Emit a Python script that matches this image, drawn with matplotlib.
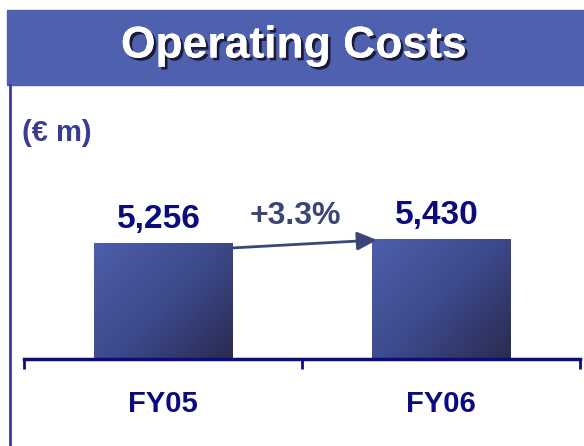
import matplotlib
matplotlib.use("Agg")
import matplotlib.pyplot as plt
import matplotlib.patheffects as pe
from matplotlib.patches import Rectangle
from matplotlib.colors import LinearSegmentedColormap
import numpy as np

plt.rcParams['font.family'] = ['Liberation Sans', 'DejaVu Sans']
plt.rcParams['font.weight'] = 'bold'

# data
years = ['FY05', 'FY06']
costs = [5256, 5430]
cost_labels = ['5,256', '5,430']
growth = '+3.3%'
title = 'Operating Costs'
unit = '(€ m)'

navy = '#0b0b80'
W, H = 584, 446
fig = plt.figure(figsize=(W / 100, H / 100), dpi=100)

# title banner
fig.patches.append(Rectangle((7 / W, 1 - 85 / H), 1 - 7 / W, 75 / H,
                             transform=fig.transFigure, color='#4f61ae', zorder=0))
fig.text(294 / W, 1 - 46 / H, title, color='white', fontsize=32, ha='center', va='center',
         path_effects=[pe.withSimplePatchShadow(offset=(2, -2), shadow_rgbFace='#1a1a3a', alpha=1),
                       pe.Normal()])
# left border line
fig.add_artist(plt.Line2D([9.5 / W, 9.5 / W], [0, 1 - 85 / H], transform=fig.transFigure,
                          color='#3838a0', lw=2))
fig.text(22 / W, 1 - 141 / H, unit, color='#3a3a98', fontsize=21, ha='left', va='baseline')

ax = fig.add_axes([24 / W, 1 - 359 / H, 556 / W, 259 / H])
x = np.arange(len(years))
bars = ax.bar(x, costs, width=0.5, color='none', edgecolor='none')

cmap = LinearSegmentedColormap.from_list('g', ['#4d5eab', '#3d4a8c', '#292c50'])
gy, gx = np.mgrid[0:1:100j, 0:1:100j]
grad = (gx * 0.55 + gy * 0.45)
for b in bars:
    x0, y0 = b.get_x(), b.get_y()
    im = ax.imshow(grad, cmap=cmap, extent=[x0, x0 + b.get_width(), y0, y0 + b.get_height()],
                   aspect='auto', origin='upper', zorder=2)
    im.set_clip_path(b)

ax.set_xlim(-0.5, 1.5)
ax.set_ylim(0, 5430 * 259 / 120)

for xi, v, lab in zip(x, costs, cost_labels):
    ax.annotate(lab, (xi, v), xytext=(-3, 11), textcoords='offset points', ha='center',
                va='baseline', fontsize=24, color=navy)

ax.annotate('', xy=(0.77, costs[1] - 45), xytext=(0.25, costs[0] - 230),
            arrowprops=dict(arrowstyle='-|>,head_length=0.6,head_width=0.28', mutation_scale=20,
                            color='#3a4578', lw=2, shrinkA=0, shrinkB=0), zorder=3)
ax.text(0.477, costs[0] + 850, growth, ha='center', va='baseline', fontsize=23, color='#3b4577')

for s in ['top', 'right', 'left']:
    ax.spines[s].set_visible(False)
ax.spines['bottom'].set_color(navy)
ax.spines['bottom'].set_linewidth(2.5)
ax.set_yticks([])
ax.set_xticks([-0.5, 0.5, 1.5])
ax.set_xticklabels([])
ax.tick_params(axis='x', which='major', length=7, width=2, color=navy, direction='out')
ax.set_xticks(x, minor=True)
ax.set_xticklabels(years, minor=True, fontsize=21, color=navy)
ax.tick_params(axis='x', which='minor', length=0, pad=22)
ax.patch.set_alpha(0)

fig.savefig('out.png', dpi=100)
